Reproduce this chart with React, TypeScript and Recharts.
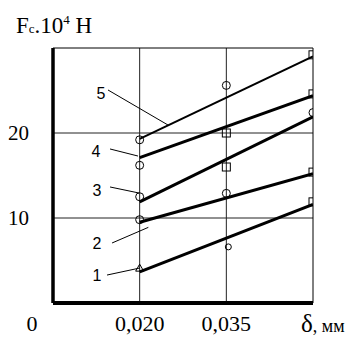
import React from 'react';
import {
  ComposedChart,
  Line,
  Scatter,
  XAxis,
  YAxis,
  ReferenceLine,
  ReferenceDot,
} from 'recharts';

// fitted straight lines, F·10^4 H at δ = 0,020 and δ = 0,050 mm
const fitX = [0.02, 0.05];
const fit1 = [3.65, 11.6];
const fit2 = [9.5, 15.2];
const fit3 = [11.9, 21.9];
const fit4 = [17.1, 24.4];
const fit5 = [19.3, 29.0];

// measured points at δ = 0,020 / 0,035 / 0,050
const measX = [0.02, 0.035, 0.05];
const meas1 = [4.1, 6.6, 11.9];
const meas2 = [9.8, 12.9, 15.4];
const meas3 = [12.5, 16.0, 22.4];
const meas4 = [16.2, 20.0, 24.6];
const meas5 = [19.2, 25.6, 29.2];
const shape1 = ['triangle', 'small', 'square'];
const shape2 = ['circle', 'circle', 'square'];
const shape3 = ['circle', 'square', 'circle'];
const shape4 = ['circle', 'square', 'square'];
const shape5 = ['circle', 'circle', 'square'];

// curve numbers and their leader lines
const curveNames = ['1', '2', '3', '4', '5'];
const nameX = [0.01262, 0.01262, 0.01262, 0.01244, 0.01331];
const nameY = [3.29, 7.06, 13.29, 17.88, 24.71];
const leaderFrom = [
  [0.01435, 3.29],
  [0.01522, 7.06],
  [0.01487, 13.65],
  [0.01487, 18.12],
  [0.01452, 25.06],
];
const leaderTo = [
  [0.02006, 4.12],
  [0.0215, 8.9],
  [0.01988, 12.94],
  [0.01971, 17.29],
  [0.0249, 20.94],
];

const xTicks = [0.02, 0.035];
const yTicks = [10, 20];

const fits = [fit1, fit2, fit3, fit4, fit5];
const meas = [meas1, meas2, meas3, meas4, meas5];
const shapes = [shape1, shape2, shape3, shape4, shape5];
const widths = [3, 3, 3, 3, 2];

const serif = 'Liberation Serif, Times New Roman, serif';
const sans = 'Liberation Sans, Arial, sans-serif';

function Marker(props: any) {
  const { cx, cy, payload } = props;
  if (cx == null || cy == null) return null;
  const s = payload.shape;
  const common = { fill: 'none', stroke: '#000', strokeWidth: 1 };
  if (s === 'square') return <rect x={cx - 4} y={cy - 4} width={8} height={8} {...common} />;
  if (s === 'triangle')
    return <path d={`M${cx - 4},${cy + 3} L${cx},${cy - 4} L${cx + 4},${cy + 3} Z`} {...common} />;
  if (s === 'small') return <circle cx={cx + 2} cy={cy} r={3} {...common} />;
  return <circle cx={cx} cy={cy} r={4} {...common} />;
}

function XTick(props: any) {
  const { x, y, payload } = props;
  return (
    <text x={x} y={y + 28} textAnchor="middle" fill="#000" fontSize={22} fontFamily={serif}>
      {Number(payload.value).toFixed(3).replace('.', ',')}
    </text>
  );
}

export default function App() {
  return (
    <div style={{ position: 'absolute', left: 0, top: 0, width: 355, height: 338, background: '#fff' }}>
      <ComposedChart
        width={355}
        height={338}
        margin={{ top: 48, right: 42, bottom: 0, left: 0 }}
      >
        <XAxis
          dataKey="x"
          type="number"
          domain={[0.005, 0.05]}
          ticks={xTicks}
          height={35}
          tickLine={false}
          tickSize={0}
          tickMargin={0}
          axisLine={{ stroke: '#000', strokeWidth: 4 }}
          tick={<XTick />}
          allowDataOverflow
        />
        <YAxis
          type="number"
          domain={[0, 30]}
          ticks={yTicks}
          width={53}
          tickLine={false}
          tickMargin={18}
          axisLine={{ stroke: '#000', strokeWidth: 3.5 }}
          tick={{ fill: '#000', fontSize: 21, fontFamily: serif }}
          allowDataOverflow
        />
        {xTicks.map((t) => (
          <ReferenceLine key={'gx' + t} x={t} stroke="#222" strokeWidth={1} />
        ))}
        {yTicks.map((t) => (
          <ReferenceLine key={'gy' + t} y={t} stroke="#222" strokeWidth={1} />
        ))}
        <ReferenceLine x={0.05} stroke="#000" strokeWidth={1} />
        <ReferenceLine y={30} stroke="#000" strokeWidth={1} />
        {leaderFrom.map((p, i) => (
          <ReferenceLine
            key={'ld' + i}
            segment={[
              { x: p[0], y: p[1] },
              { x: leaderTo[i][0], y: leaderTo[i][1] },
            ]}
            stroke="#000"
            strokeWidth={1}
          />
        ))}
        {fits.map((f, i) => (
          <Line
            key={'fit' + i}
            data={fitX.map((x, j) => ({ x, y: f[j] }))}
            dataKey="y"
            stroke="#000"
            strokeWidth={widths[i]}
            dot={false}
            isAnimationActive={false}
          />
        ))}
        {meas.map((m, i) => (
          <Scatter
            key={'m' + i}
            data={measX.map((x, j) => ({ x, y: m[j], shape: shapes[i][j] }))}
            dataKey="y"
            shape={<Marker />}
            isAnimationActive={false}
          />
        ))}
        {curveNames.map((n, i) => (
          <ReferenceDot
            key={'n' + n}
            x={nameX[i]}
            y={nameY[i]}
            r={1}
            fill="none"
            stroke="none"
            label={{ value: n, position: 'center', fill: '#000', fontSize: 16, fontFamily: sans }}
          />
        ))}
      </ComposedChart>
      <svg
        width={355}
        height={338}
        style={{ position: 'absolute', left: 0, top: 0, pointerEvents: 'none' }}
      >
        <text x={16} y={33} fontFamily={serif} fontSize={23} fill="#000">
          F<tspan fontSize={13}>c</tspan>.10
          <tspan dy={-9} fontSize={13}>4</tspan>
          <tspan dy={9}> H</tspan>
        </text>
        <text x={32} y={331} textAnchor="middle" fontFamily={serif} fontSize={22} fill="#000">
          0
        </text>
        <text x={301} y={332} fontFamily={serif} fontSize={25} fill="#000">
          δ<tspan fontSize={18}>, мм</tspan>
        </text>
      </svg>
    </div>
  );
}
